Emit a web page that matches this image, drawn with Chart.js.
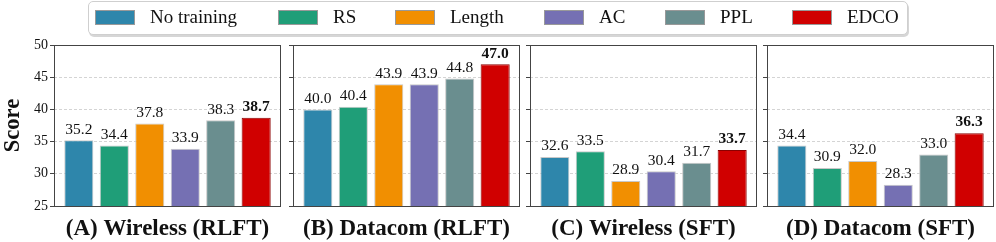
<!DOCTYPE html>
<html>
<head>
<meta charset="utf-8">
<script src="https://cdn.jsdelivr.net/npm/chart.js@4/dist/chart.umd.min.js"></script>
<style>
  body { margin: 0; background: #fff; }
  #wrap { position: relative; width: 996px; height: 242px; overflow: hidden; font-family: "Liberation Serif", serif; }
  canvas { position: absolute; }
  #legend { position: absolute; left: 88px; top: 1px; width: 818px; height: 32px; border: 1px solid #cfcfcf;
            border-radius: 5px; box-shadow: 1px 2px 0 #d6d6d6; background: #fff; z-index: 2; }
  .sw { position: absolute; top: 8px; width: 38px; height: 13px; border: 1px solid #999; }
  .lt { position: absolute; top: 4px; font-size: 19px; line-height: 22px; color: #111; white-space: nowrap; }
</style>
</head>
<body>
<div id="wrap">
  <div id="legend"></div>
</div>
<script>
const categories = ["No training", "RS", "Length", "AC", "PPL", "EDCO"];
const panelTitles = ["(A) Wireless (RLFT)", "(B) Datacom (RLFT)", "(C) Wireless (SFT)", "(D) Datacom (SFT)"];
const wirelessRLFT = [35.2, 34.4, 37.8, 33.9, 38.3, 38.7];
const datacomRLFT = [40.0, 40.4, 43.9, 43.9, 44.8, 47.0];
const wirelessSFT = [32.6, 33.5, 28.9, 30.4, 31.7, 33.7];
const datacomSFT = [34.4, 30.9, 32.0, 28.3, 33.0, 36.3];
const yTicks = [25, 30, 35, 40, 45, 50];

const colors = ["#2e86ab", "#1f9e78", "#f18f01", "#7570b3", "#6a8e8f", "#d00000"];
const edges = ["#c8c8c8", "#c8c8c8", "#c8c8c8", "#c8c8c8", "#c8c8c8", "#8b0000"];

const wrap = document.getElementById("wrap");
const legend = document.getElementById("legend");
const swatchX = [95, 278, 395, 544, 665, 792];
categories.forEach((name, i) => {
    const sw = document.createElement("div");
    sw.className = "sw";
    sw.style.left = (swatchX[i] - 89) + "px";
    sw.style.background = colors[i];
    legend.appendChild(sw);
    const t = document.createElement("div");
    t.className = "lt";
    t.style.left = (swatchX[i] - 89 + 55) + "px";
    t.textContent = name;
    legend.appendChild(t);
});

// value labels above bars + the box frame round each panel
const valueLabels = {
    id: "valueLabels",
    afterDatasetsDraw(chart) {
        const ctx = chart.ctx;
        const meta = chart.getDatasetMeta(0);
        ctx.save();
        ctx.fillStyle = "#111";
        ctx.textAlign = "center";
        ctx.textBaseline = "bottom";
        meta.data.forEach((bar, i) => {
            const last = i === meta.data.length - 1;
            ctx.font = (last ? "bold " : "") + "15.5px 'Liberation Serif'";
            ctx.fillText(chart.data.datasets[0].data[i].y.toFixed(1), bar.x, bar.y - 3);
        });
        const a = chart.chartArea;
        ctx.strokeStyle = "#444";
        ctx.lineWidth = 1;
        ctx.strokeRect(Math.round(a.left) + 0.5, Math.round(a.top) + 0.5,
            Math.round(a.right - a.left) - 1, Math.round(a.bottom - a.top));
        ctx.restore();
    }
};

const panelData = [wirelessRLFT, datacomRLFT, wirelessSFT, datacomSFT];
const plotLeft = [54, 293, 530, 767];
const plotW = 227;

panelData.forEach((vals, p) => {
    const axisW = p === 0 ? 54 : 12;
    const canvas = document.createElement("canvas");
    canvas.width = axisW + plotW + 2;
    canvas.height = 212;
    canvas.style.left = (plotLeft[p] - axisW) + "px";
    canvas.style.top = "30px";
    wrap.appendChild(canvas);

    new Chart(canvas, {
        type: "bar",
        data: {
            datasets: [{
                data: vals.map((v, i) => ({ x: i, y: v })),
                backgroundColor: colors,
                borderColor: edges,
                borderWidth: 1,
                borderSkipped: false,
                barPercentage: 0.82,
                categoryPercentage: 1
            }]
        },
        options: {
            responsive: false,
            animation: false,
            events: [],
            layout: { padding: { top: 15, right: 2, left: 0, bottom: 0 } },
            plugins: {
                legend: { display: false },
                tooltip: { enabled: false }
            },
            scales: {
                x: {
                    type: "linear", min: -0.7, max: 5.7, offset: false,
                    ticks: { display: false },
                    grid: { display: false, drawTicks: false, offset: false },
                    border: { display: false },
                    title: {
                        display: true,
                        text: panelTitles[p],
                        color: "#111",
                        font: { family: "'Liberation Serif'", size: 23, weight: "bold", lineHeight: 1.1 },
                        padding: { top: 10, bottom: 0.7 }
                    }
                },
                y: {
                    min: 25, max: 50,
                    afterBuildTicks: s => { s.ticks = yTicks.map(v => ({ value: v })); },
                    afterFit: s => { s.width = axisW; },
                    ticks: {
                        display: p === 0,
                        padding: 2,
                        color: "#111",
                        font: { family: "'Liberation Serif'", size: 14 }
                    },
                    grid: { color: "#d4d4d4", tickColor: "#444", tickLength: 4, lineWidth: 1 },
                    border: { display: false, dash: [3, 2] },
                    title: {
                        display: p === 0,
                        text: "Score",
                        color: "#111",
                        padding: { top: 0, bottom: 0 },
                        font: { family: "'Liberation Serif'", size: 22.5, weight: "bold" }
                    }
                }
            }
        }
        ,
        plugins: [valueLabels]
    });
});
</script>
</body>
</html>
